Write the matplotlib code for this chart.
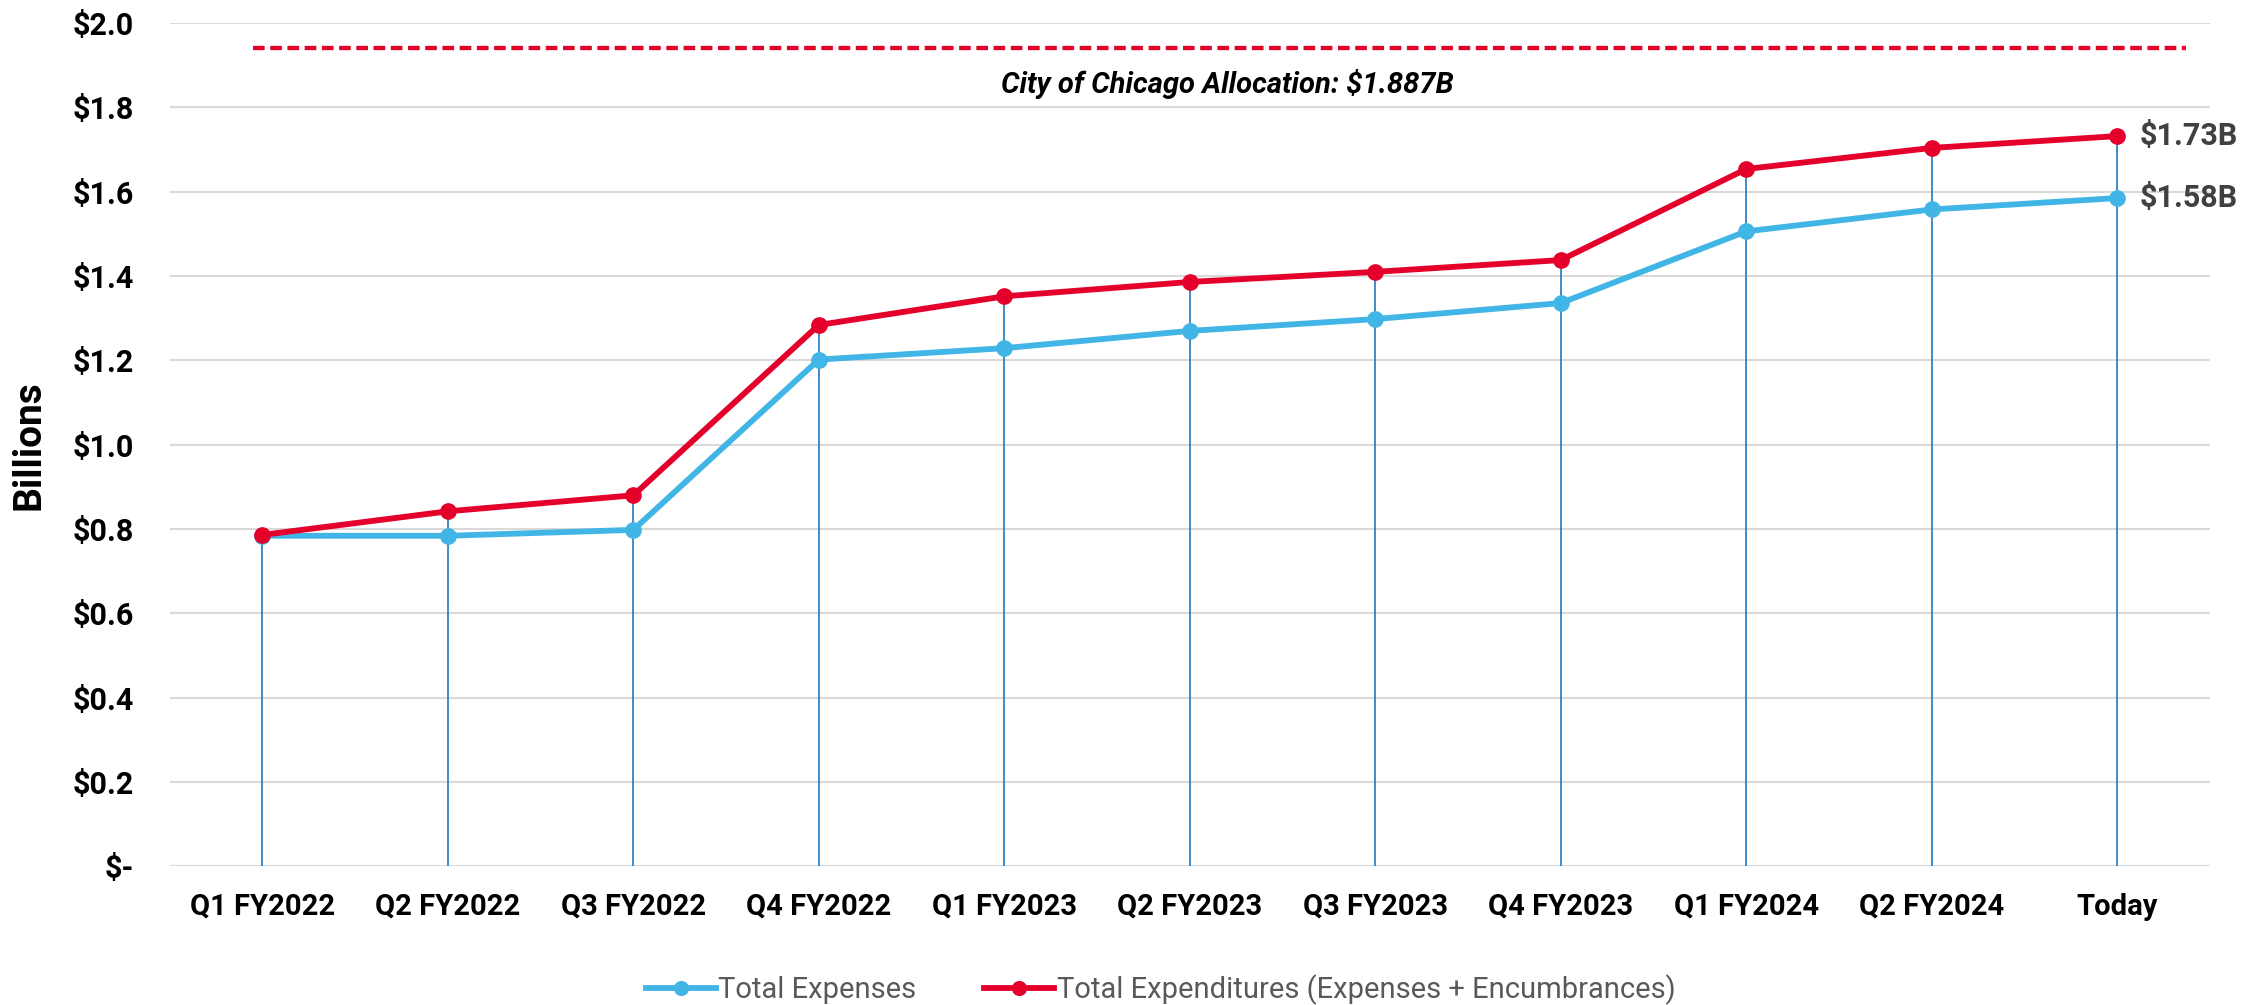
import numpy as np
import matplotlib.pyplot as plt

# data (billions of dollars)
quarters = ["Q1 FY2022", "Q2 FY2022", "Q3 FY2022", "Q4 FY2022", "Q1 FY2023",
            "Q2 FY2023", "Q3 FY2023", "Q4 FY2023", "Q1 FY2024", "Q2 FY2024", "Today"]
expenses = [0.784, 0.784, 0.798, 1.202, 1.229, 1.270, 1.298, 1.336, 1.506, 1.558, 1.585]
expenditures = [0.786, 0.842, 0.880, 1.284, 1.352, 1.386, 1.410, 1.438, 1.654, 1.704, 1.732]
allocation_line = 1.94
allocation_text = "City of Chicago Allocation: $1.887B"
end_labels = ["$1.58B", "$1.73B"]
yticks = [0.0, 0.2, 0.4, 0.6, 0.8, 1.0, 1.2, 1.4, 1.6, 1.8, 2.0]
ytick_labels = ["$-", "$0.2", "$0.4", "$0.6", "$0.8", "$1.0", "$1.2", "$1.4", "$1.6", "$1.8", "$2.0"]

blue = "#41B6E6"
red = "#E4002B"
drop = "#1F78C0"

plt.rcParams['font.family'] = ['Roboto', 'DejaVu Sans']

fig = plt.figure(figsize=(22.62, 10.05), dpi=100)
ax = fig.add_axes([0.075, 0.138, 0.902, 0.839])

x = np.arange(len(quarters))

# drop lines from the top series to the axis
ax.vlines(x, 0, expenditures, color=drop, linewidth=1.2, zorder=2)

ax.plot(x, expenses, color=blue, linewidth=4.2, marker="o", markersize=11,
        label="Total Expenses", zorder=3, clip_on=False)
ax.plot(x, expenditures, color=red, linewidth=4.2, marker="o", markersize=11,
        label="Total Expenditures (Expenses + Encumbrances)", zorder=4, clip_on=False)

# allocation reference line
ax.plot([-0.05, 10.37], [allocation_line, allocation_line], color=red,
        linewidth=3.1, dashes=(2.7, 1.3), zorder=3)
ax.text(5.2, 1.856, allocation_text, ha="center", va="center",
        fontsize=21, fontweight="bold", fontstyle="italic", color="black")

# end labels
ax.text(x[-1] + 0.12, expenses[-1], end_labels[0], ha="left", va="center",
        fontsize=22, fontweight="bold", color="#404040")
ax.text(x[-1] + 0.12, expenditures[-1], end_labels[1], ha="left", va="center",
        fontsize=22, fontweight="bold", color="#404040")

ax.set_xlim(-0.5, len(quarters) - 0.5)
ax.set_ylim(0, 2.0)
ax.set_yticks(yticks)
ax.set_yticklabels(ytick_labels, fontsize=22, fontweight="bold")
ax.set_xticks(x)
ax.set_xticklabels(quarters, fontsize=21, fontweight="bold")
ax.tick_params(axis="y", length=0, pad=26)
ax.tick_params(axis="x", length=0, pad=19)
ax.grid(axis="y", color="#D9D9D9", linewidth=1.5, zorder=0)
ax.set_axisbelow(True)
for s in ax.spines.values():
    s.set_visible(False)

ax.set_ylabel("Billions", fontsize=28, fontweight="bold", labelpad=18)

leg = fig.legend(loc="lower center", bbox_to_anchor=(0.513, -0.026), ncol=2,
                 frameon=False, fontsize=21, handlelength=2.4, columnspacing=2.3,
                 handletextpad=0.1, markerscale=0.9)
for t in leg.get_texts():
    t.set_color("#595959")

fig.savefig("out.png", dpi=100)
